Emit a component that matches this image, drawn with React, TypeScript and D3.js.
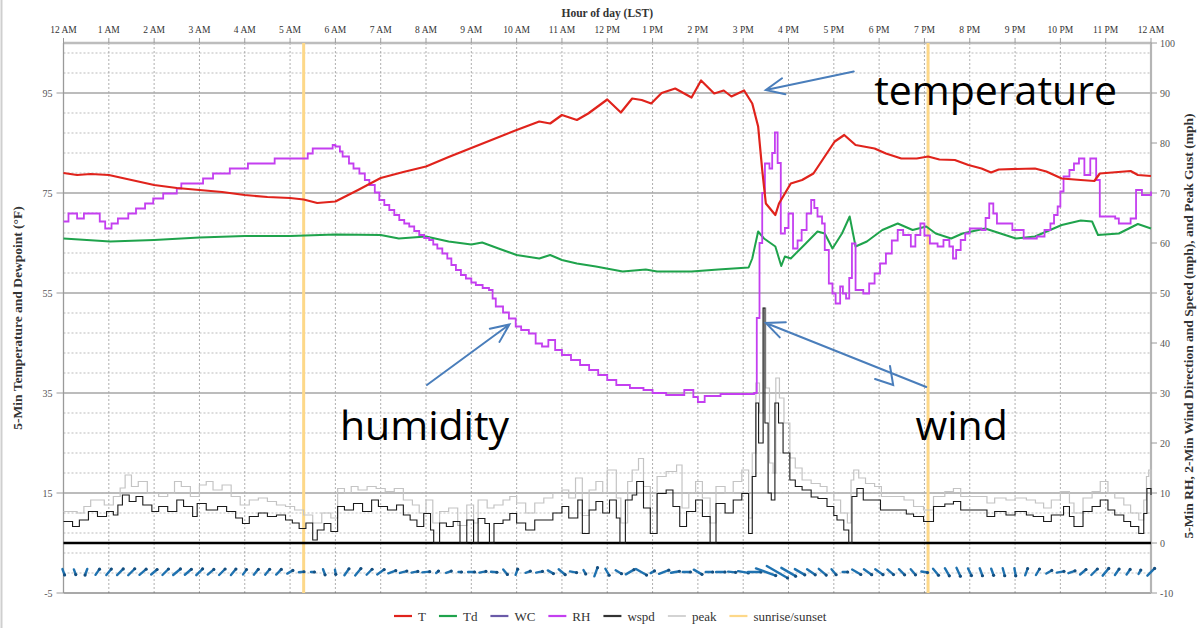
import React, { useEffect, useRef } from 'react';
import * as d3 from 'd3';

// hour-of-day tick labels (top axis)
const hourLabels = [
  '12 AM', '1 AM', '2 AM', '3 AM', '4 AM', '5 AM', '6 AM', '7 AM', '8 AM', '9 AM', '10 AM', '11 AM',
  '12 PM', '1 PM', '2 PM', '3 PM', '4 PM', '5 PM', '6 PM', '7 PM', '8 PM', '9 PM', '10 PM', '11 PM', '12 AM',
];
const leftTicks = [-5, 15, 35, 55, 75, 95];
const rightTicks = [-10, 0, 10, 20, 30, 40, 50, 60, 70, 80, 90, 100];

// 5-min temperature (F) [hour, value]
const tempData: [number, number][] = [
  [0, 79], [0.3, 78.6], [0.6, 78.8], [1, 78.6], [1.5, 77.6], [2, 76.6], [2.5, 76], [3, 75.6], [3.5, 75.2],
  [4, 74.6], [4.5, 74.2], [5, 74], [5.3, 73.7], [5.6, 73], [6, 73.3], [6.5, 75.6], [7, 78], [7.5, 79.2],
  [8, 80.3], [8.5, 82.2], [9, 84], [9.5, 85.8], [10, 87.6], [10.5, 89.3], [10.74, 88.9], [11, 90.6],
  [11.33, 89.6], [11.58, 90.9], [12, 93.7], [12.3, 91.1], [12.55, 93.9], [12.76, 93.6], [12.97, 92.9],
  [13.2, 95], [13.5, 95.9], [13.86, 94.1], [14.07, 97.5], [14.36, 94.9], [14.57, 95.5], [14.74, 94.3],
  [15.02, 95.5], [15.2, 92.9], [15.33, 88.3], [15.42, 79.6], [15.5, 72.9], [15.71, 70.6], [15.79, 72.9],
  [15.92, 74.9], [16.05, 76.9], [16.3, 77.6], [16.55, 78.9], [16.8, 82.3], [17.02, 85.3], [17.23, 86.6],
  [17.48, 84.6], [17.9, 83.9], [18.15, 82.9], [18.49, 81.9], [18.83, 81.9], [19.08, 82.3], [19.33, 81.7],
  [19.67, 81.6], [19.97, 80.6], [20.26, 79.9], [20.47, 79.1], [20.64, 79.7], [21.44, 79.9], [21.69, 79.3],
  [22.03, 77.9], [22.45, 77.6], [22.75, 77.4], [22.87, 78.9], [23.55, 79.4], [23.71, 78.6], [24, 78.4],
];

// 5-min dewpoint (F)
const dewData: [number, number][] = [
  [0, 65.9], [1.03, 65.3], [2, 65.6], [3, 66.1], [4, 66.4], [5, 66.4], [6, 66.7], [7, 66.6], [7.4, 65.9],
  [8, 66.3], [8.5, 65.3], [9, 64.7], [9.24, 65.1], [9.6, 63.9], [10, 62.6], [10.5, 61.9], [10.74, 62.6],
  [11, 61.6], [11.33, 60.9], [11.75, 60.3], [12.34, 59.3], [12.85, 59.7], [13.1, 59.3], [13.86, 59.3],
  [14.45, 59.7], [15.12, 60.1], [15.2, 61.9], [15.33, 67.3], [15.46, 65.9], [15.71, 64.3], [15.84, 60.4],
  [15.92, 62.3], [16.05, 61.9], [16.38, 64.9], [16.64, 67.3], [16.8, 66.9], [16.97, 63.9], [17.18, 66.9],
  [17.35, 70.3], [17.48, 64.3], [17.73, 65.3], [18.07, 67.6], [18.41, 68.9], [18.74, 67.6], [19.04, 68.3],
  [19.25, 66.9], [19.59, 65.9], [19.84, 66.9], [20.34, 67.9], [21.02, 65.9], [21.44, 66.3], [22.03, 68.6],
  [22.45, 69.5], [22.7, 69.3], [22.83, 66.6], [23.29, 66.9], [23.71, 68.8], [24, 67.9],
];

// 5-min relative humidity (%)
const rhData: [number, number][] = [
  [0, 64.3], [0.11, 65.9], [0.3, 64.9], [0.45, 65.9], [0.8, 64.3], [0.92, 62.9], [1.06, 63.9], [1.2, 64.9],
  [1.43, 65.9], [1.6, 66.9], [1.8, 67.9], [1.98, 68.9], [2.2, 69.9], [2.5, 70.9], [2.6, 71.9], [3.08, 72.9],
  [3.3, 73.9], [3.67, 74.9], [4.07, 75.9], [4.66, 76.9], [5.39, 77.9], [5.5, 78.9], [5.94, 79.6], [6.0, 79.3],
  [6.1, 78.3], [6.16, 77.3], [6.3, 75.9], [6.4, 74.9], [6.53, 73.9], [6.65, 72.6], [6.75, 71.6], [6.87, 70.1],
  [6.97, 68.6], [7.08, 67.6], [7.19, 66.6], [7.3, 65.6], [7.41, 64.6], [7.52, 63.9], [7.63, 63.3], [7.74, 62.4],
  [7.85, 61.6], [7.96, 61], [8.07, 60.6], [8.16, 59.7], [8.25, 58.9], [8.36, 57.9], [8.47, 56.9], [8.56, 55.6],
  [8.66, 54.6], [8.77, 53.6], [8.88, 52.9], [9.0, 52.1], [9.1, 51.6], [9.25, 51], [9.39, 50.6], [9.47, 48.9],
  [9.54, 47.3], [9.7, 46.1], [9.83, 44.9], [9.98, 43.3], [10.1, 42.6], [10.27, 41.9], [10.42, 39.9],
  [10.56, 39.3], [10.7, 40.6], [10.85, 38.6], [11.0, 37.6], [11.2, 36.6], [11.4, 35.6], [11.6, 34.6],
  [11.8, 33.6], [12.0, 32.6], [12.2, 31.6], [12.5, 31], [12.8, 30.6], [13.0, 30], [13.3, 29.6], [13.7, 30.6],
  [13.9, 29.2], [14.0, 28.2], [14.15, 29.4], [14.5, 29.8], [15.24, 30], [15.3, 45], [15.36, 60], [15.42, 70],
  [15.48, 75.9], [15.58, 74.9], [15.64, 78], [15.7, 82.1], [15.76, 76], [15.83, 61.9], [15.92, 63], [16.0, 65.9],
  [16.1, 58.9], [16.2, 60.5], [16.29, 62.6], [16.4, 65.9], [16.5, 68.6], [16.57, 67], [16.64, 65.3],
  [16.74, 63.9], [16.8, 58.6], [16.89, 51.9], [16.97, 49.9], [17.04, 47.9], [17.14, 51.3], [17.2, 49.9],
  [17.27, 48.9], [17.34, 53], [17.4, 59.9], [17.48, 50.6], [17.65, 49.9], [17.78, 51.9], [17.9, 53.9],
  [18.02, 55.9], [18.15, 57.9], [18.28, 60.5], [18.41, 62.6], [18.53, 61.6], [18.7, 59.3], [18.8, 61.6],
  [18.91, 63.9], [19.0, 61.5], [19.12, 59.9], [19.29, 59.3], [19.42, 60.6], [19.55, 59.3], [19.63, 56.9],
  [19.7, 58.6], [19.8, 60.6], [19.9, 61.9], [20.0, 62.9], [20.26, 62.6], [20.35, 65], [20.43, 67.9],
  [20.52, 65.9], [20.6, 63.9], [20.94, 62.6], [21.19, 60.9], [21.48, 61.3], [21.65, 62.6], [21.78, 63.9],
  [21.86, 65.6], [21.94, 67.3], [22.0, 70.3], [22.07, 73.3], [22.2, 74.6], [22.3, 75.9], [22.41, 76.9],
  [22.53, 73.6], [22.66, 76.9], [22.79, 72.6], [22.87, 65.3], [23.21, 64.9], [23.29, 63.9], [23.55, 64.9],
  [23.67, 70.6], [23.8, 69.6], [24, 70.3],
];

// 2-min wind speed (mph)
const wspdData: [number, number][] = [
  [0, 4.3], [0.2, 3.3], [0.35, 4.6], [0.55, 6.3], [0.75, 5.3], [0.95, 6.3], [1.1, 5.6], [1.2, 7.6], [1.3, 9.6],
  [1.45, 8.3], [1.6, 9.3], [1.75, 7.6], [1.95, 6.3], [2.1, 7.3], [2.3, 6.3], [2.5, 8.6], [2.65, 7.3], [2.85, 5.3],
  [2.95, 7.9], [3.15, 6.6], [3.4, 7.3], [3.6, 6.3], [3.8, 5], [3.95, 3.9], [4.1, 5.3], [4.3, 6], [4.5, 5.3],
  [4.7, 5.6], [4.9, 4.6], [5.05, 4], [5.2, 2.9], [5.35, 4], [5.5, 0.6], [5.6, 2.6], [5.75, 3.9], [5.9, 2.3],
  [6.05, 7.3], [6.2, 6.6], [6.4, 7.9], [6.6, 6.3], [6.8, 8.6], [6.95, 7.3], [7.15, 6.6], [7.35, 7.6], [7.5, 5.6],
  [7.65, 4.6], [7.8, 3.3], [7.95, 5.9], [8.1, 2.6], [8.17, 0], [8.3, 4], [8.45, 3.3], [8.6, 4.3], [8.75, 0],
  [8.9, 4.6], [9.05, 0], [9.15, 4.9], [9.3, 3.9], [9.4, 0], [9.5, 3.9], [9.7, 4.6], [9.85, 5.9], [10, 4],
  [10.2, 2.6], [10.4, 4.6], [10.6, 4.6], [10.8, 6], [11.0, 7.3], [11.15, 5], [11.35, 8.6], [11.45, 1.9],
  [11.6, 6.6], [11.75, 8.3], [11.9, 6], [12.05, 8.6], [12.2, 5], [12.28, 0], [12.4, 8.6], [12.55, 9.6],
  [12.65, 12.3], [12.8, 7], [12.95, 1.9], [13.1, 9.9], [13.3, 10.6], [13.45, 7.3], [13.6, 3.3], [13.75, 6.3],
  [13.95, 8.6], [14.1, 5.3], [14.27, 0], [14.4, 7.9], [14.6, 6], [14.78, 8.6], [14.97, 9.9], [15.12, 1.9],
  [15.2, 13.3], [15.28, 28], [15.34, 20], [15.44, 47], [15.48, 24], [15.55, 10], [15.62, 8.6], [15.7, 28],
  [15.78, 24], [15.88, 18], [16.03, 12.6], [16.15, 11.3], [16.3, 10.6], [16.5, 9.2], [16.65, 8.9], [16.85, 7.3],
  [17.0, 5.5], [17.07, 4.6], [17.22, 2.6], [17.33, 0], [17.4, 9.3], [17.51, 10.9], [17.65, 8.6], [17.88, 8.6],
  [18.03, 6.6], [18.4, 6.6], [18.6, 5.8], [18.76, 5.3], [18.98, 4.3], [19.2, 7.3], [19.45, 7.8], [19.64, 8.3],
  [19.8, 6.6], [20.1, 6.6], [20.38, 5.3], [20.55, 6.3], [20.8, 5.6], [21.0, 6.3], [21.25, 5.6], [21.4, 5.3],
  [21.63, 4.3], [21.8, 5.6], [22.07, 7.3], [22.2, 5.3], [22.3, 3.3], [22.5, 6.3], [22.7, 7.3], [22.88, 8.6],
  [23.05, 6.6], [23.2, 5.6], [23.4, 4.3], [23.55, 3.3], [23.73, 1.9], [23.84, 5.9], [23.91, 10.9], [24, 9.6],
];

// peak gust (mph)
const peakData: [number, number][] = [
  [0, 6.3], [0.3, 6], [0.45, 7.3], [0.6, 8.6], [0.9, 7.6], [1.1, 9.3], [1.25, 11], [1.36, 13.6], [1.5, 11.3],
  [1.65, 12.3], [1.85, 9.9], [2.1, 9.3], [2.3, 9.9], [2.45, 12.3], [2.6, 11.3], [2.8, 9.3], [3.0, 11.6],
  [3.15, 12.3], [3.3, 10.6], [3.5, 11.6], [3.7, 9.3], [3.9, 7.6], [4.1, 8.6], [4.3, 9], [4.5, 8.3], [4.7, 7.6],
  [4.9, 7.3], [5.1, 6.6], [5.3, 5.6], [5.5, 4], [5.7, 6], [5.9, 5], [6.05, 10.9], [6.2, 10], [6.35, 11.3],
  [6.5, 10.6], [6.7, 11.3], [6.9, 10.9], [7.1, 10.3], [7.3, 10.9], [7.5, 8.6], [7.7, 7.6], [7.85, 6], [8.0, 8.6],
  [8.15, 4], [8.3, 6.3], [8.5, 7], [8.7, 3.5], [8.9, 7.6], [9.05, 4], [9.15, 8.6], [9.35, 7], [9.5, 7.6],
  [9.7, 8.6], [9.85, 9.3], [10, 8], [10.2, 6], [10.4, 8], [10.6, 9], [10.8, 9.9], [11.0, 10.6], [11.15, 9],
  [11.3, 13], [11.45, 5.5], [11.6, 10.6], [11.75, 12.3], [11.9, 10], [12.0, 14.6], [12.2, 9], [12.3, 4],
  [12.45, 12.3], [12.55, 14.6], [12.69, 16.9], [12.8, 11.3], [12.95, 6], [13.1, 13.3], [13.3, 14.3],
  [13.53, 15.6], [13.65, 7], [13.8, 10], [13.95, 12.3], [14.1, 9], [14.27, 4], [14.4, 11.3], [14.6, 9.9],
  [14.78, 12.3], [14.97, 14.6], [15.12, 5], [15.2, 18], [15.28, 32], [15.36, 26], [15.44, 47], [15.5, 31],
  [15.58, 16], [15.66, 14], [15.72, 33], [15.8, 29], [15.9, 24], [16.03, 17], [16.15, 15], [16.3, 12.6],
  [16.5, 11.9], [16.7, 11.3], [16.85, 10], [17.0, 8.6], [17.15, 6], [17.3, 4], [17.38, 12.6], [17.44, 14.6],
  [17.55, 13], [17.7, 11.9], [17.9, 11.3], [18.05, 9.3], [18.3, 9.3], [18.55, 8.6], [18.76, 7.3], [18.98, 6.6],
  [19.2, 9.3], [19.45, 10.3], [19.64, 10.9], [19.8, 9.3], [20.1, 9.3], [20.38, 8], [20.55, 9], [20.8, 8.6],
  [21.0, 9], [21.25, 8.6], [21.45, 8], [21.63, 7], [21.8, 8.6], [22.0, 10.3], [22.2, 8], [22.3, 6], [22.5, 9],
  [22.7, 10.3], [22.88, 12.3], [23.05, 10], [23.2, 9], [23.4, 7.6], [23.55, 6], [23.73, 4.6], [23.84, 8.6],
  [23.9, 13.3], [23.95, 14.6], [24, 12.6],
];

// 2-min wind direction (deg) every 15 minutes, 00:00 .. 24:00
const windDir = [
  340, 340, 20, 215, 220, 225, 225, 230, 230, 225, 230, 230, 225, 230, 225, 220, 215, 220, 220, 225,
  240, 265, 270, 340, 350, 215, 220, 225, 235, 250, 255, 260, 265, 230, 250, 270, 270, 260, 275, 320,
  200, 250, 260, 300, 310, 280, 330, 200, 330, 300, 240, 300, 240, 250, 260, 270, 300, 270, 270, 275,
  280, 270, 290, 300, 300, 300, 305, 310, 320, 270, 300, 305, 305, 310, 315, 320, 280, 320, 330, 335,
  335, 340, 340, 345, 350, 200, 210, 240, 260, 250, 230, 225, 220, 215, 215, 210, 225,
];

const sunTimes = [5.3, 19.08];

const legendNames = ['T', 'Td', 'WC', 'RH', 'wspd', 'peak', 'sunrise/sunset'];
const legendColors = ['#e0231c', '#1fa34c', '#6a5aa8', '#c43ff0', '#333333', '#c4c4c4', '#fdd889'];

// annotation labels [text, hour, left-axis value]
const notes: [string, number, number][] = [
  ['temperature', 17.89, 92.6],
  ['humidity', 6.1, 25.6],
  ['wind', 18.8, 25.6],
];
// annotation arrows [tail hour, tail value, tip hour, tip value]
const arrows: [number, number, number, number][] = [
  [17.44, 99.3, 15.5, 95.6],
  [8.02, 36.6, 9.84, 48.7],
  [19.04, 36.2, 15.5, 49.0],
];

const SERIF = '"Liberation Serif", "Times New Roman", serif';

const App = () => {
  const svgRef = useRef(null);

  useEffect(() => {
    document.body.style.margin = '0';
    const svg = d3.select(svgRef.current);
    svg.selectAll('*').remove();
    const width = 1201;
    const height = 628;
    const left = 63.5, right = 1151, top = 43, bottom = 593;

    const x = d3.scaleLinear().domain([0, 24]).range([left, right]);
    const yL = d3.scaleLinear().domain([-5, 105]).range([bottom, top]);
    const yR = d3.scaleLinear().domain([-10, 100]).range([bottom, top]);

    svg.append('rect').attr('width', width).attr('height', height).attr('fill', '#fff');
    svg.append('line').attr('x1', 1.5).attr('x2', 1.5).attr('y1', 0).attr('y2', height)
      .attr('stroke', '#cfcfcf').attr('stroke-width', 2);

    const g = svg.append('g');

    // minor horizontal grid (dashed)
    const minor = d3.range(-5, 105, 4).filter(v => !leftTicks.includes(v));
    g.append('g').selectAll('line').data(minor).enter().append('line')
      .attr('x1', left).attr('x2', right)
      .attr('y1', d => yL(d)).attr('y2', d => yL(d))
      .attr('stroke', '#a9a9a9').attr('stroke-width', 0.8).attr('stroke-dasharray', '2,2');

    // vertical hour grid (dashed)
    g.append('g').selectAll('line').data(d3.range(1, 24)).enter().append('line')
      .attr('x1', d => x(d)).attr('x2', d => x(d))
      .attr('y1', top).attr('y2', bottom)
      .attr('stroke', '#9a9a9a').attr('stroke-width', 0.8).attr('stroke-dasharray', '2,2');

    // major horizontal grid
    g.append('g').selectAll('line').data(leftTicks.filter(v => v > -5)).enter().append('line')
      .attr('x1', left).attr('x2', right)
      .attr('y1', d => yL(d)).attr('y2', d => yL(d))
      .attr('stroke', '#a6a6a6').attr('stroke-width', 1.3);

    // axes lines
    g.append('line').attr('x1', left).attr('x2', right).attr('y1', top).attr('y2', top)
      .attr('stroke', '#bdbdbd').attr('stroke-width', 2.5);
    g.append('line').attr('x1', left).attr('x2', right).attr('y1', bottom).attr('y2', bottom)
      .attr('stroke', '#555').attr('stroke-width', 1.2);
    g.append('line').attr('x1', left).attr('x2', left).attr('y1', top).attr('y2', bottom)
      .attr('stroke', '#9a9a9a').attr('stroke-width', 1.3);
    g.append('line').attr('x1', right).attr('x2', right).attr('y1', top).attr('y2', bottom)
      .attr('stroke', '#b5b5b5').attr('stroke-width', 2.2);

    // top ticks + labels
    g.append('g').selectAll('line').data(d3.range(0, 25)).enter().append('line')
      .attr('x1', d => x(d)).attr('x2', d => x(d)).attr('y1', top - 5).attr('y2', top)
      .attr('stroke', '#9a9a9a').attr('stroke-width', 1);
    g.append('g').selectAll('text').data(hourLabels).enter().append('text')
      .attr('x', (d, i) => x(i)).attr('y', 33)
      .attr('text-anchor', 'middle').attr('font-family', SERIF).attr('font-size', 9.5)
      .attr('fill', '#333').text(d => d);
    svg.append('text').attr('x', x(12)).attr('y', 17).attr('text-anchor', 'middle')
      .attr('font-family', SERIF).attr('font-size', 11.5).attr('font-weight', 'bold')
      .attr('fill', '#333').text('Hour of day (LST)');

    // left ticks + labels
    g.append('g').selectAll('line').data(leftTicks).enter().append('line')
      .attr('x1', left - 7).attr('x2', left).attr('y1', d => yL(d)).attr('y2', d => yL(d))
      .attr('stroke', '#9a9a9a');
    g.append('g').selectAll('text').data(leftTicks).enter().append('text')
      .attr('x', left - 11).attr('y', d => yL(d) + 3.5).attr('text-anchor', 'end')
      .attr('font-family', SERIF).attr('font-size', 10).attr('fill', '#555').text(d => d);
    svg.append('text')
      .attr('transform', `translate(22,${(top + bottom) / 2}) rotate(-90)`)
      .attr('text-anchor', 'middle').attr('font-family', SERIF).attr('font-size', 13.5)
      .attr('font-weight', 'bold').attr('fill', '#333')
      .text('5-Min Temperature and Dewpoint (°F)');

    // right ticks + labels
    g.append('g').selectAll('line').data(rightTicks).enter().append('line')
      .attr('x1', right).attr('x2', right + 6).attr('y1', d => yR(d)).attr('y2', d => yR(d))
      .attr('stroke', '#9a9a9a');
    g.append('g').selectAll('text').data(rightTicks).enter().append('text')
      .attr('x', right + 9).attr('y', d => yR(d) + 3.5).attr('text-anchor', 'start')
      .attr('font-family', SERIF).attr('font-size', 10).attr('fill', '#555').text(d => d);
    svg.append('text')
      .attr('transform', `translate(1193,${(top + bottom) / 2 + 8}) rotate(-90)`)
      .attr('text-anchor', 'middle').attr('font-family', SERIF).attr('font-size', 13.5)
      .attr('font-weight', 'bold').attr('fill', '#333')
      .text('5-Min RH, 2-Min Wind Direction and Speed (mph), and Peak Gust (mph)');

    // sunrise / sunset
    g.append('g').selectAll('line').data(sunTimes).enter().append('line')
      .attr('x1', d => x(d)).attr('x2', d => x(d)).attr('y1', top).attr('y2', bottom)
      .attr('stroke', legendColors[6]).attr('stroke-width', 3);

    // zero wind line
    g.append('line').attr('x1', left).attr('x2', right).attr('y1', yR(0)).attr('y2', yR(0))
      .attr('stroke', '#000').attr('stroke-width', 2.6);

    const stepLine = (scale) => d3.line<[number, number]>()
      .x(d => x(d[0])).y(d => scale(d[1])).curve(d3.curveStepAfter);
    const smoothLine = (scale) => d3.line<[number, number]>()
      .x(d => x(d[0])).y(d => scale(d[1]));

    // wind speed / peak
    g.append('path').datum(peakData).attr('fill', 'none').attr('stroke', legendColors[5])
      .attr('stroke-width', 1.2).attr('d', stepLine(yR));
    g.append('path').datum(wspdData).attr('fill', 'none').attr('stroke', '#1a1a1a')
      .attr('stroke-width', 1.1).attr('d', stepLine(yR));

    // dewpoint, RH, temperature
    g.append('path').datum(dewData).attr('fill', 'none').attr('stroke', legendColors[1])
      .attr('stroke-width', 2).attr('stroke-linejoin', 'round').attr('d', smoothLine(yL));
    g.append('path').datum(rhData).attr('fill', 'none').attr('stroke', legendColors[3])
      .attr('stroke-width', 1.8).attr('d', stepLine(yR));
    g.append('path').datum(tempData).attr('fill', 'none').attr('stroke', legendColors[0])
      .attr('stroke-width', 2.2).attr('stroke-linejoin', 'round').attr('d', smoothLine(yL));

    // wind direction sticks
    const bis = d3.bisector((d: [number, number]) => d[0]).right;
    const speedAt = (h) => wspdData[Math.max(0, bis(wspdData, h) - 1)][1];
    const barbs = windDir.map((dir, i) => ({ h: i / 4, dir, spd: speedAt(i / 4) }));
    const by = yR(-5.8);
    const bg = g.append('g');
    barbs.forEach(b => {
      const len = 3 + Math.min(b.spd, 30) * 0.75;
      const a = (b.dir * Math.PI) / 180;
      const dx = Math.sin(a) * len / 2;
      const dy = -Math.cos(a) * len / 2;
      const cx = x(b.h);
      bg.append('line').attr('x1', cx - dx).attr('y1', by - dy).attr('x2', cx + dx).attr('y2', by + dy)
        .attr('stroke', '#1f72b0').attr('stroke-width', 2.4).attr('stroke-linecap', 'round');
      bg.append('circle').attr('cx', cx - dx).attr('cy', by - dy).attr('r', 1.6).attr('fill', '#154f80');
    });

    // annotations
    g.append('g').selectAll('text').data(notes).enter().append('text')
      .attr('x', d => x(d[1])).attr('y', d => yL(d[2]))
      .attr('font-family', '"Open Sans", sans-serif').attr('font-size', 41).attr('fill', '#000')
      .text(d => d[0]);
    const ag = g.append('g').attr('stroke', '#4a7ebb').attr('stroke-width', 2).attr('fill', 'none')
      .attr('stroke-linecap', 'round');
    arrows.forEach(([h0, v0, h1, v1]) => {
      const x0 = x(h0), y0 = yL(v0), x1 = x(h1), y1 = yL(v1);
      const ang = Math.atan2(y0 - y1, x0 - x1);
      const L = 20, spread = 0.42;
      ag.append('path').attr('d',
        `M${x0},${y0}L${x1},${y1}` +
        `M${x1 + L * Math.cos(ang - spread)},${y1 + L * Math.sin(ang - spread)}L${x1},${y1}` +
        `L${x1 + L * Math.cos(ang + spread)},${y1 + L * Math.sin(ang + spread)}`);
    });
    // stray arrowhead on the wind arrow
    ag.append('path').attr('d',
      `M${x(18.24)},${yL(40.4)}L${x(18.31)},${yL(36.6)}L${x(17.91)},${yL(37.8)}`);

    // legend
    const lg = svg.append('g').attr('transform', 'translate(394,616)');
    let cx = 0;
    legendNames.forEach((name, i) => {
      lg.append('line').attr('x1', cx).attr('x2', cx + 18).attr('y1', 0).attr('y2', 0)
        .attr('stroke', legendColors[i]).attr('stroke-width', i === 5 ? 1.5 : 2.2);
      const t = lg.append('text').attr('x', cx + 24).attr('y', 4.5)
        .attr('font-family', SERIF).attr('font-size', 13).attr('fill', '#333').text(name);
      const w = (t.node() as SVGTextElement).getComputedTextLength();
      cx += 24 + w + 13;
    });
  }, []);

  return (
    <svg ref={svgRef} width={1201} height={628}
      style={{ display: 'block', position: 'absolute', left: 0, top: 0 }} />
  );
};

export default App;
